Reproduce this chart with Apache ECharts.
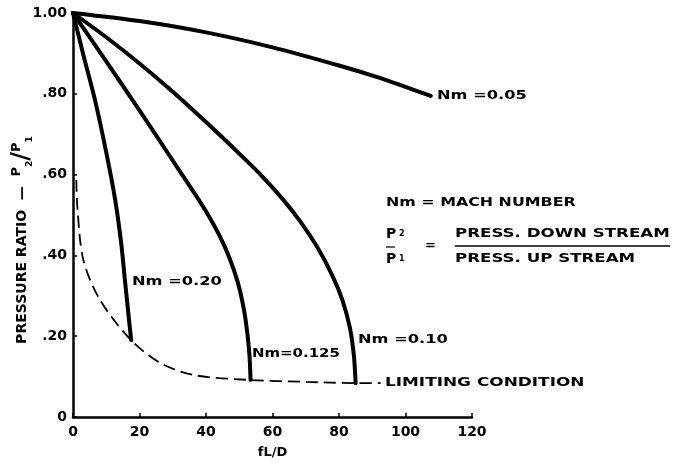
<!DOCTYPE html>
<html><head><meta charset="utf-8">
<script src="https://cdn.jsdelivr.net/npm/echarts@6/dist/echarts.min.js"></script>
<style>html,body{margin:0;padding:0;background:#fff}#c{width:687px;height:464px}</style>
</head><body><div id="c"></div>
<script>
// ---- data ----
const xTicks = [0, 20, 40, 60, 80, 100, 120];
const yTickLabels = {0: '0', 0.2: '.20', 0.4: '.40', 0.6: '.60', 0.8: '.80', 1: '1.00'};

const nm005 = [[0,1],[20,0.98],[40,0.952],[60,0.915],[80,0.87],[92,0.84],[100,0.817],[107.6,0.795]];
const nm010 = [[0,1],[10,0.94],[20,0.875],[30,0.805],[40,0.73],[50,0.652],[56.4,0.60],[63,0.54],[68,0.488],[73.5,0.42],[78,0.35],[81,0.29],[83.3,0.22],[84.5,0.15],[85,0.084]];
const nm0125 = [[0,1],[10,0.88],[17.7,0.787],[25,0.697],[32,0.61],[37,0.548],[40.3,0.505],[44,0.45],[47,0.395],[49.5,0.335],[51.2,0.275],[52.4,0.21],[53.1,0.15],[53.4,0.092]];
const nm020 = [[0,1],[3,0.9],[6.6,0.785],[10,0.655],[12.7,0.537],[14.5,0.43],[15.6,0.34],[16.6,0.26],[17.5,0.19]];
const limiting = [[1.0,0.587],[1.3,0.52],[3.1,0.389],[8.1,0.29],[17.5,0.19],[26.2,0.134],[36.2,0.104],[52.5,0.092],[70,0.087],[85,0.084],[92.5,0.084]];

const FONT = 'DejaVu Sans';
const chart = echarts.init(document.getElementById('c'));
const solid = (name, data) => ({
  name, type: 'line', data, showSymbol: false, smooth: 0.25,
  lineStyle: {color: '#000', width: 4, cap: 'round', join: 'round'}, z: 3
});
const label = (x, y, text, sx) => ({type: 'text', x, y, scaleX: sx || 1.25,
  style: {text, fontFamily: FONT, fontWeight: 'bold', fontSize: 13, fill: '#000', verticalAlign: 'middle'}});
chart.setOption({
  animation: false,
  backgroundColor: '#fff',
  grid: {left: 73, right: 215, top: 13, bottom: 47},
  xAxis: {
    type: 'value', min: 0, max: 120, interval: 20,
    name: 'fL/D', nameLocation: 'middle', nameGap: 29,
    nameTextStyle: {fontFamily: FONT, fontWeight: 'bold', fontSize: 13, color: '#000'},
    axisLine: {lineStyle: {color: '#000', width: 2.5}},
    axisTick: {inside: true, length: 4, lineStyle: {color: '#000', width: 1.5}},
    axisLabel: {fontFamily: FONT, fontWeight: 'bold', fontSize: 14, color: '#000', margin: 8},
    splitLine: {show: false}
  },
  yAxis: {
    type: 'value', min: 0, max: 1, interval: 0.2,
    axisLine: {show: true, lineStyle: {color: '#000', width: 2.5}},
    axisTick: {show: true, inside: true, length: 4, lineStyle: {color: '#000', width: 1.5}},
    axisLabel: {fontFamily: FONT, fontWeight: 'bold', fontSize: 14, color: '#000', margin: 6,
      formatter: v => yTickLabels[Math.round(v*10)/10] ?? ''},
    splitLine: {show: false}
  },
  series: [
    solid('0.05', nm005),
    solid('0.10', nm010),
    solid('0.125', nm0125),
    solid('0.20', nm020),
    {name: 'limiting', type: 'line', data: limiting, showSymbol: false, smooth: 0.3,
     lineStyle: {color: '#000', width: 1.8, type: [12, 6]}, z: 2}
  ],
  graphic: [
    {type: 'text', x: 22, y: 240, rotation: Math.PI/2, style: {
      text: '{t|PRESSURE RATIO  —  }{p|P}{s|2}{l|/}{p|P}{s|1}',
      align: 'center', verticalAlign: 'middle',
      rich: {
        t: {fontFamily: FONT, fontWeight: 'bold', fontSize: 14, fill: '#000'},
        p: {fontFamily: FONT, fontWeight: 'bold', fontSize: 13, fill: '#000', verticalAlign: 'top'},
        l: {fontFamily: FONT, fontWeight: 'bold', fontSize: 24, fill: '#000'},
        s: {fontFamily: FONT, fontWeight: 'bold', fontSize: 9, fill: '#000', verticalAlign: 'bottom'}
      }}},
    label(437, 96, 'Nm =0.05'),
    label(132, 282, 'Nm =0.20'),
    label(252, 354, 'Nm=0.125', 1.15),
    label(358, 340, 'Nm =0.10'),
    label(385, 383, 'LIMITING CONDITION', 1.3),
    label(386, 203, 'Nm = MACH NUMBER', 1.22),
    {type: 'text', x: 386, y: 234, style: {text: '{p|P}{s| 2}', verticalAlign: 'middle',
      rich: {p: {fontFamily: FONT, fontWeight: 'bold', fontSize: 14, fill: '#000'}, s: {fontFamily: FONT, fontWeight: 'bold', fontSize: 8, fill: '#000'}}}},
    {type: 'text', x: 386, y: 259, style: {text: '{p|P}{s| 1}', verticalAlign: 'middle',
      rich: {p: {fontFamily: FONT, fontWeight: 'bold', fontSize: 14, fill: '#000'}, s: {fontFamily: FONT, fontWeight: 'bold', fontSize: 8, fill: '#000'}}}},
    {type: 'line', shape: {x1: 386, y1: 247, x2: 395, y2: 247}, style: {stroke: '#000', lineWidth: 1.2}},
    {type: 'text', x: 425, y: 246, style: {text: '=', fontFamily: FONT, fontWeight: 'bold', fontSize: 13, fill: '#000', verticalAlign: 'middle'}},
    label(455, 234, 'PRESS. DOWN STREAM', 1.28),
    {type: 'line', shape: {x1: 455, y1: 246, x2: 670, y2: 246}, style: {stroke: '#000', lineWidth: 1.5}},
    label(455, 259, 'PRESS. UP STREAM', 1.28)
  ]
});
</script></body></html>
